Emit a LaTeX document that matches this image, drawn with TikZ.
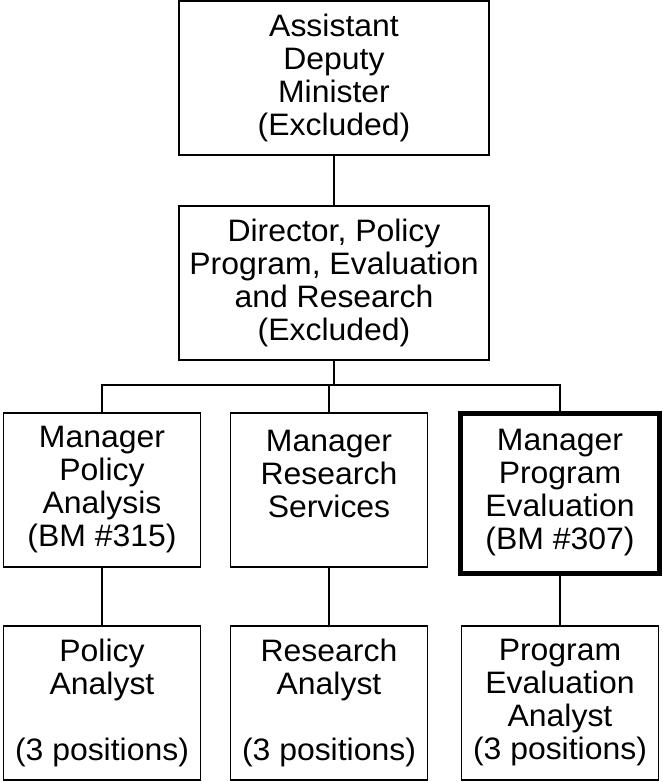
\documentclass[tikz,border=0pt]{standalone}
\usepackage{fontspec}
\setmainfont{Liberation Sans}[FakeStretch = 1.03]
\begin{document}
\begin{tikzpicture}[x = 1pt, y = -1pt, font = \fontsize{31}{33}\selectfont,
		box/.style = {draw, line width = 1.6pt, align = center, inner sep = 0pt, minimum width = 197, minimum height = 154},
		link/.style = {line width = 1.6pt}]
	\useasboundingbox (0, 0) rectangle (662, 782);
	\node[box, minimum width = 310] (adm) at (334, 78) {Assistant\\Deputy\\Minister\\(Excluded)};
	\node[box, minimum width = 310] (dir) at (334, 283) {Director, Policy\\Program, Evaluation\\and Research\\(Excluded)};
	\node[box] (mpa) at (102, 490) {Manager\\Policy\\Analysis\\(BM \#315)};
	\node[box] (mrs) at (329, 490) {Manager\\Research\\Services\\\mbox{}};
	\node[box, line width = 5pt, minimum width = 199, minimum height = 160] (mpe) at (560, 493) {Manager\\Program\\Evaluation\\(BM \#307)};
	\foreach \x/\n/\t in {102/pa/{Policy\\Analyst\\\mbox{}\\(3 positions)}, 329/ra/{Research\\Analyst\\\mbox{}\\(3 positions)}, 560/pea/{Program\\Evaluation\\Analyst\\(3 positions)}}{
		\node[box] (\n) at (\x, 703) {\t};}
	\coordinate (bus) at (334, 385);
	\draw[link] (adm) -- (dir);
	\draw[link] (dir) -- (bus);
	\draw[link] (mpa.north) |- (bus) -| (mpe.north);
	\draw[link] (mrs |- bus) -- (mrs);
	\foreach \m/\a in {mpa/pa, mrs/ra, mpe/pea}{
		\draw[link] (\m) -- (\a);}
\end{tikzpicture}
\end{document}
